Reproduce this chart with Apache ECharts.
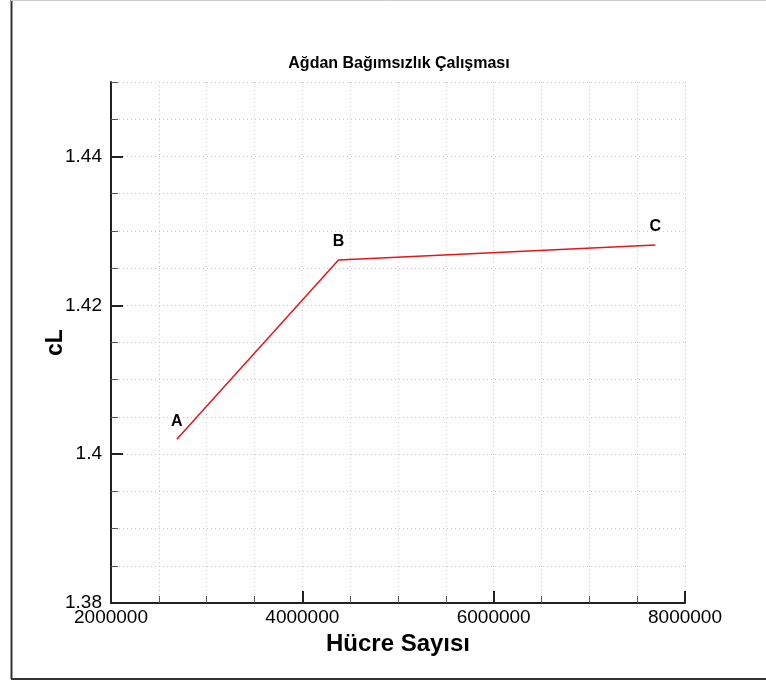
<!DOCTYPE html>
<html>
<head>
<meta charset="utf-8">
<script src="https://cdn.jsdelivr.net/npm/echarts@6/dist/echarts.min.js"></script>
<style>
  html, body { margin: 0; padding: 0; background: #fff; }
  #chart { width: 766px; height: 682px; }
</style>
</head>
<body>
<div id="chart"></div>
<script>
// mesh independence study: cell count vs lift coefficient
var pointNames = ['A', 'B', 'C'];
var cellCounts = [2688000, 4378000, 7690000];
var cLValues = [1.4020, 1.4261, 1.4281];
var majorY = [1.38, 1.40, 1.42, 1.44];

var chart = echarts.init(document.getElementById('chart'));

var fontFamily = 'Liberation Sans, Arial, sans-serif';
var dotted = { color: '#c8c8c8', type: [1, 3], width: 1 };

var seriesData = [];
for (var i = 0; i < cellCounts.length; i++) {
    seriesData.push({ value: [cellCounts[i], cLValues[i]], name: pointNames[i] });
}

chart.setOption({
    animation: false,
    backgroundColor: '#fff',
    title: {
        text: 'Ağdan Bağımsızlık Çalışması',
        left: 394,
        textAlign: 'center',
        top: 51,
        textStyle: { fontFamily: fontFamily, fontSize: 16, fontWeight: 'bold', color: '#000' }
    },
    graphic: [
        { type: 'line', shape: { x1: 11.5, y1: 0, x2: 11.5, y2: 679 }, style: { stroke: '#333', lineWidth: 2 } },
        { type: 'line', shape: { x1: 11, y1: 679, x2: 766, y2: 679 }, style: { stroke: '#333', lineWidth: 2 } },
        { type: 'line', shape: { x1: 11, y1: 0.5, x2: 766, y2: 0.5 }, style: { stroke: '#ccc', lineWidth: 1 } }
    ],
    grid: { left: 111, right: 81, top: 82, bottom: 79 },
    xAxis: {
        type: 'value',
        min: 2000000,
        max: 8000000,
        interval: 2000000,
        name: 'Hücre Sayısı',
        nameLocation: 'middle',
        nameGap: 29,
        nameTextStyle: { fontFamily: fontFamily, fontSize: 24, fontWeight: 'bold', color: '#000' },
        axisLine: { show: true, onZero: false, lineStyle: { color: '#222', width: 2 } },
        axisTick: { show: true, inside: true, length: 12, lineStyle: { color: '#222', width: 2 } },
        minorTick: { show: true, splitNumber: 4, length: 7, lineStyle: { color: '#555', width: 1 } },
        splitLine: { show: true, lineStyle: dotted },
        minorSplitLine: { show: true, lineStyle: dotted },
        axisLabel: {
            fontFamily: fontFamily, fontSize: 19, color: '#000', margin: 5,
            formatter: function (v) { return String(v); }
        }
    },
    yAxis: [
        {
            type: 'value',
            min: 1.38,
            max: 1.45,
            interval: 0.005,
            position: 'left',
            name: 'cL',
            nameLocation: 'middle',
            nameGap: 44,
            nameTextStyle: { fontFamily: fontFamily, fontSize: 23, fontWeight: 'bold', color: '#000' },
            axisLine: { show: true, onZero: false, lineStyle: { color: '#222', width: 2 } },
            axisTick: { show: true, inside: true, length: 7, lineStyle: { color: '#555', width: 1 } },
            splitLine: { show: true, lineStyle: dotted },
            axisLabel: { show: false }
        },
        {
            type: 'value',
            min: 1.38,
            max: 1.45,
            position: 'left',
            axisLine: { show: false },
            splitLine: { show: false },
            axisTick: { show: true, inside: true, length: 12, customValues: majorY, lineStyle: { color: '#222', width: 2 } },
            axisLabel: {
                show: true, customValues: majorY, margin: 9,
                fontFamily: fontFamily, fontSize: 19, color: '#000',
                formatter: function (v) { return String(parseFloat(v.toFixed(3))); }
            }
        }
    ],
    series: [{
        type: 'line',
        data: seriesData,
        yAxisIndex: 0,
        showSymbol: true,
        symbol: 'circle',
        symbolSize: 0,
        itemStyle: { color: '#e3161c' },
        lineStyle: { color: '#e3161c', width: 1.5 },
        labelLayout: { hideOverlap: false },
        label: {
            show: true,
            position: 'top',
            distance: 10,
            formatter: '{b}',
            fontFamily: fontFamily,
            fontSize: 16,
            fontWeight: 'bold',
            color: '#000'
        }
    }]
});
</script>
</body>
</html>
